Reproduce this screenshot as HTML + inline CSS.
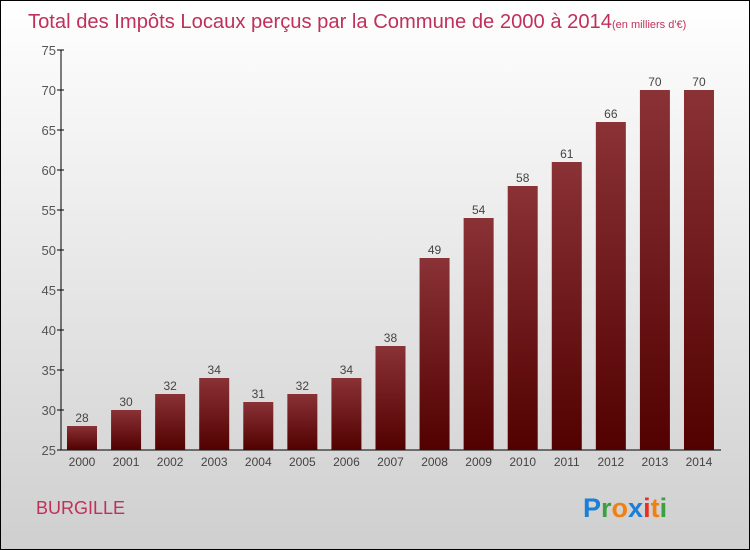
<!DOCTYPE html>
<html><head><meta charset="utf-8"><style>
body{margin:0;}
#wrap{width:750px;height:550px;position:relative;overflow:hidden;}
svg text{font-family:"Liberation Sans",sans-serif;}
</style></head><body>
<div id="wrap">
<svg id="chart" width="750" height="550" xmlns="http://www.w3.org/2000/svg">
<defs>
<linearGradient id="bg" x1="0" y1="0" x2="0" y2="1"><stop offset="0" stop-color="#ffffff"/><stop offset="1" stop-color="#cfcfcf"/></linearGradient>
<linearGradient id="bar" x1="0" y1="0" x2="0" y2="1"><stop offset="0" stop-color="#8a3236"/><stop offset="1" stop-color="#520000"/></linearGradient>
</defs>
<rect x="0.5" y="0.5" width="749" height="549" fill="url(#bg)" stroke="#000"/>
<text x="28" y="28" font-size="20" fill="#c0305a"><tspan textLength="584" lengthAdjust="spacingAndGlyphs">Total des Impôts Locaux perçus par la Commune de 2000 à 2014</tspan><tspan font-size="11">(en milliers d'€)</tspan></text>
<g id="axes"></g>
<g id="bars"></g>
<text x="36" y="514" font-size="18" fill="#c0305a">BURGILLE</text>
<text x="583" y="517" font-size="27" font-weight="bold"><tspan fill="#1a7fd6">P</tspan><tspan fill="#3aa040">r</tspan><tspan fill="#f08010">o</tspan><tspan fill="#1a7fd6">x</tspan><tspan fill="#e83020">i</tspan><tspan fill="#f08010">t</tspan><tspan fill="#3aa040">i</tspan></text>
</svg>
</div>
<script>
const categories=["2000","2001","2002","2003","2004","2005","2006","2007","2008","2009","2010","2011","2012","2013","2014"];
const values=[28,30,32,34,31,32,34,38,49,54,58,61,66,70,70];
const yTicks=[25,30,35,40,45,50,55,60,65,70,75];
const NS="http://www.w3.org/2000/svg";
const y0=450,y1=50,vmin=25,vmax=75,xL=61,xR=721;
const y=v=>y0-(v-vmin)/(vmax-vmin)*(y0-y1);
const step=44.07,first=82,bw=30;
const x=i=>first+i*step;
function mk(t,a,p){const e=document.createElementNS(NS,t);for(const k in a)e.setAttribute(k,a[k]);p.appendChild(e);return e;}
const ax=document.getElementById('axes'),bars=document.getElementById('bars');
let l=mk('line',{x1:xL,y1:y1,x2:xL,y2:y0,stroke:'#000'},ax);


l=mk('line',{x1:xL,y1:y0,x2:xR,y2:y0,stroke:'#000'},ax);


yTicks.forEach(v=>{
 const tk=mk('line',{x1:xL-4,y1:y(v),x2:xL+3,y2:y(v),stroke:'#000'},ax);
 
 
 const t=mk('text',{x:xL-5,y:y(v)+5,'text-anchor':'end','font-size':13,fill:'#555'},ax);
 t.textContent=v;
 
 
});
categories.forEach((c,i)=>{
 const r=mk('rect',{x:x(i)-bw/2,y:y(values[i]),width:bw,height:y0-y(values[i]),fill:'url(#bar)'},bars);
 
 
 const t=mk('text',{x:x(i),y:y(values[i])-4,'text-anchor':'middle','font-size':12,fill:'#444'},bars);
 t.textContent=values[i];
 
 
 const xt=mk('text',{x:x(i),y:466,'text-anchor':'middle','font-size':12,fill:'#444'},ax);
 xt.textContent=c;
 
 
});
</script>
</body></html>
